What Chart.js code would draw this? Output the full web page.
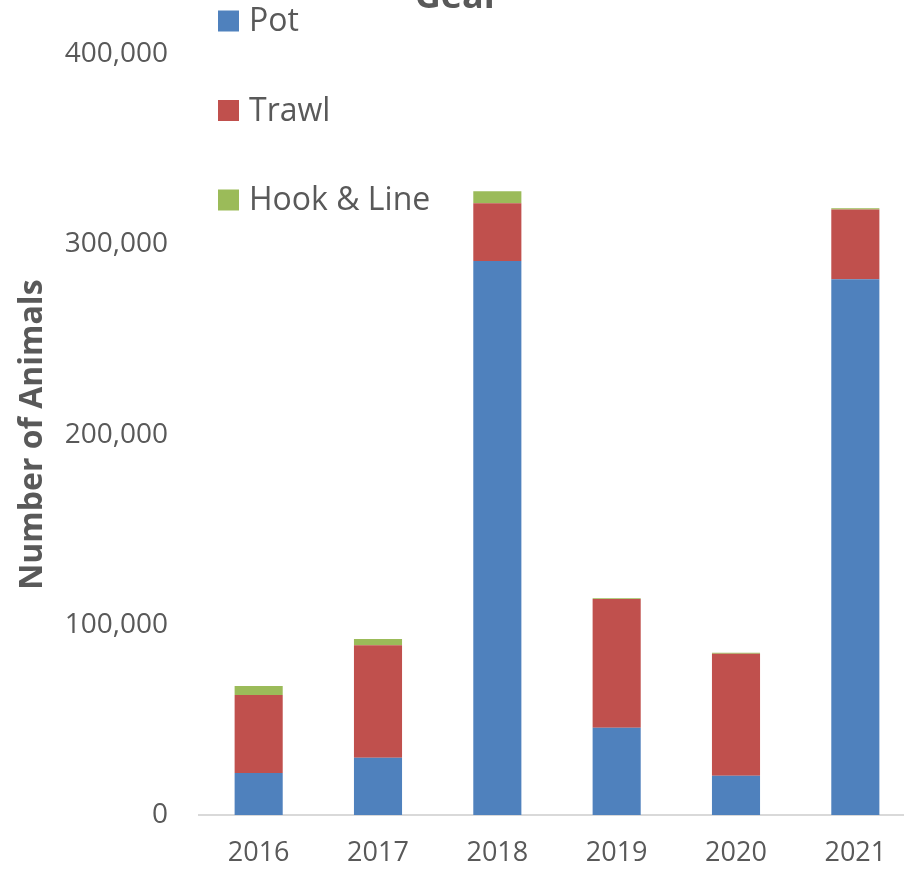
<!DOCTYPE html>
<html>
<head>
<meta charset="utf-8">
<script src="https://cdn.jsdelivr.net/npm/chart.js@4.4.1/dist/chart.umd.min.js"></script>
<style>
  html, body { margin: 0; padding: 0; background: #fff; overflow: hidden; }
  #wrap { position: relative; width: 904px; height: 869px; overflow: hidden; }
  #gearChart { position: absolute; left: 0; top: -40px; }
</style>
</head>
<body>
<div id="wrap">
  <canvas id="gearChart" width="916" height="909"></canvas>
</div>
<script>
// values
const years = ['2016', '2017', '2018', '2019', '2020', '2021'];
const potCounts   = [22100, 30100, 291300, 45900, 20700, 281700];
const trawlCounts = [41000, 59200, 30300, 67600, 64100, 36700];
const hookCounts  = [4700, 3200, 6300, 500, 500, 600];
const yTicks = [0, 100000, 200000, 300000, 400000];

const TEXT = '#595959';
Chart.defaults.font.family = "'Open Sans', sans-serif";
Chart.defaults.color = TEXT;

// legend drawn by hand: it sits above the plot, stacked, with wide gaps
const sideLegend = {
    id: 'sideLegend',
    afterDraw(chart) {
        const c = chart.ctx;
        c.save();
        c.font = "32px 'Open Sans', sans-serif";
        c.textBaseline = 'middle';
        c.textAlign = 'left';
        chart.data.datasets.forEach((ds, i) => {
            const y = 61 + i * 89.5;
            c.fillStyle = ds.backgroundColor;
            c.fillRect(218, y - 10.5, 21, 21);
            c.fillStyle = TEXT;
            c.fillText(ds.label, 249, y + 1);
        });
        c.restore();
    }
};

const ctx = document.getElementById('gearChart').getContext('2d');

const chart = new Chart(ctx, {
    type: 'bar',
    data: {
        labels: years,
        datasets: [
            { label: 'Pot', data: potCounts, backgroundColor: '#4F81BD' },
            { label: 'Trawl', data: trawlCounts, backgroundColor: '#C0504D' },
            { label: 'Hook & Line', data: hookCounts, backgroundColor: '#9BBB59' }
        ]
    },
    options: {
        responsive: false,
        animation: false,
        layout: { padding: { top: 0, right: 1, bottom: 0, left: 0 } },
        datasets: {
            bar: { barPercentage: 0.403, categoryPercentage: 1, borderWidth: 0 }
        },
        plugins: {
            legend: { display: false },
            tooltip: { enabled: false },
            title: {
                display: true,
                text: 'Gear',
                color: TEXT,
                font: { size: 36, weight: 'bold' },
                padding: { top: 16, bottom: 35 }
            }
        },
        scales: {
            x: {
                stacked: true,
                grid: { display: false, drawTicks: false },
                border: { display: true, color: '#d9d9d9', width: 2 },
                ticks: { font: { size: 27 }, color: TEXT, padding: 22 },
                afterFit(s) { s.height = 54; }
            },
            y: {
                stacked: true,
                min: 0,
                max: 400000,
                grid: { display: false, drawTicks: false },
                border: { display: false },
                afterBuildTicks(s) { s.ticks = yTicks.map(v => ({ value: v })); },
                ticks: {
                    font: { size: 28 },
                    color: TEXT,
                    padding: 31,
                    callback: v => v.toLocaleString('en-US')
                },
                title: {
                    display: true,
                    text: 'Number of Animals',
                    color: TEXT,
                    font: { size: 32, weight: 'bold' },
                    padding: { top: 14, bottom: 0 }
                },
                afterFit(s) { s.width = 199; }
            }
        }
    },
    plugins: [sideLegend]
});
</script>
</body>
</html>
